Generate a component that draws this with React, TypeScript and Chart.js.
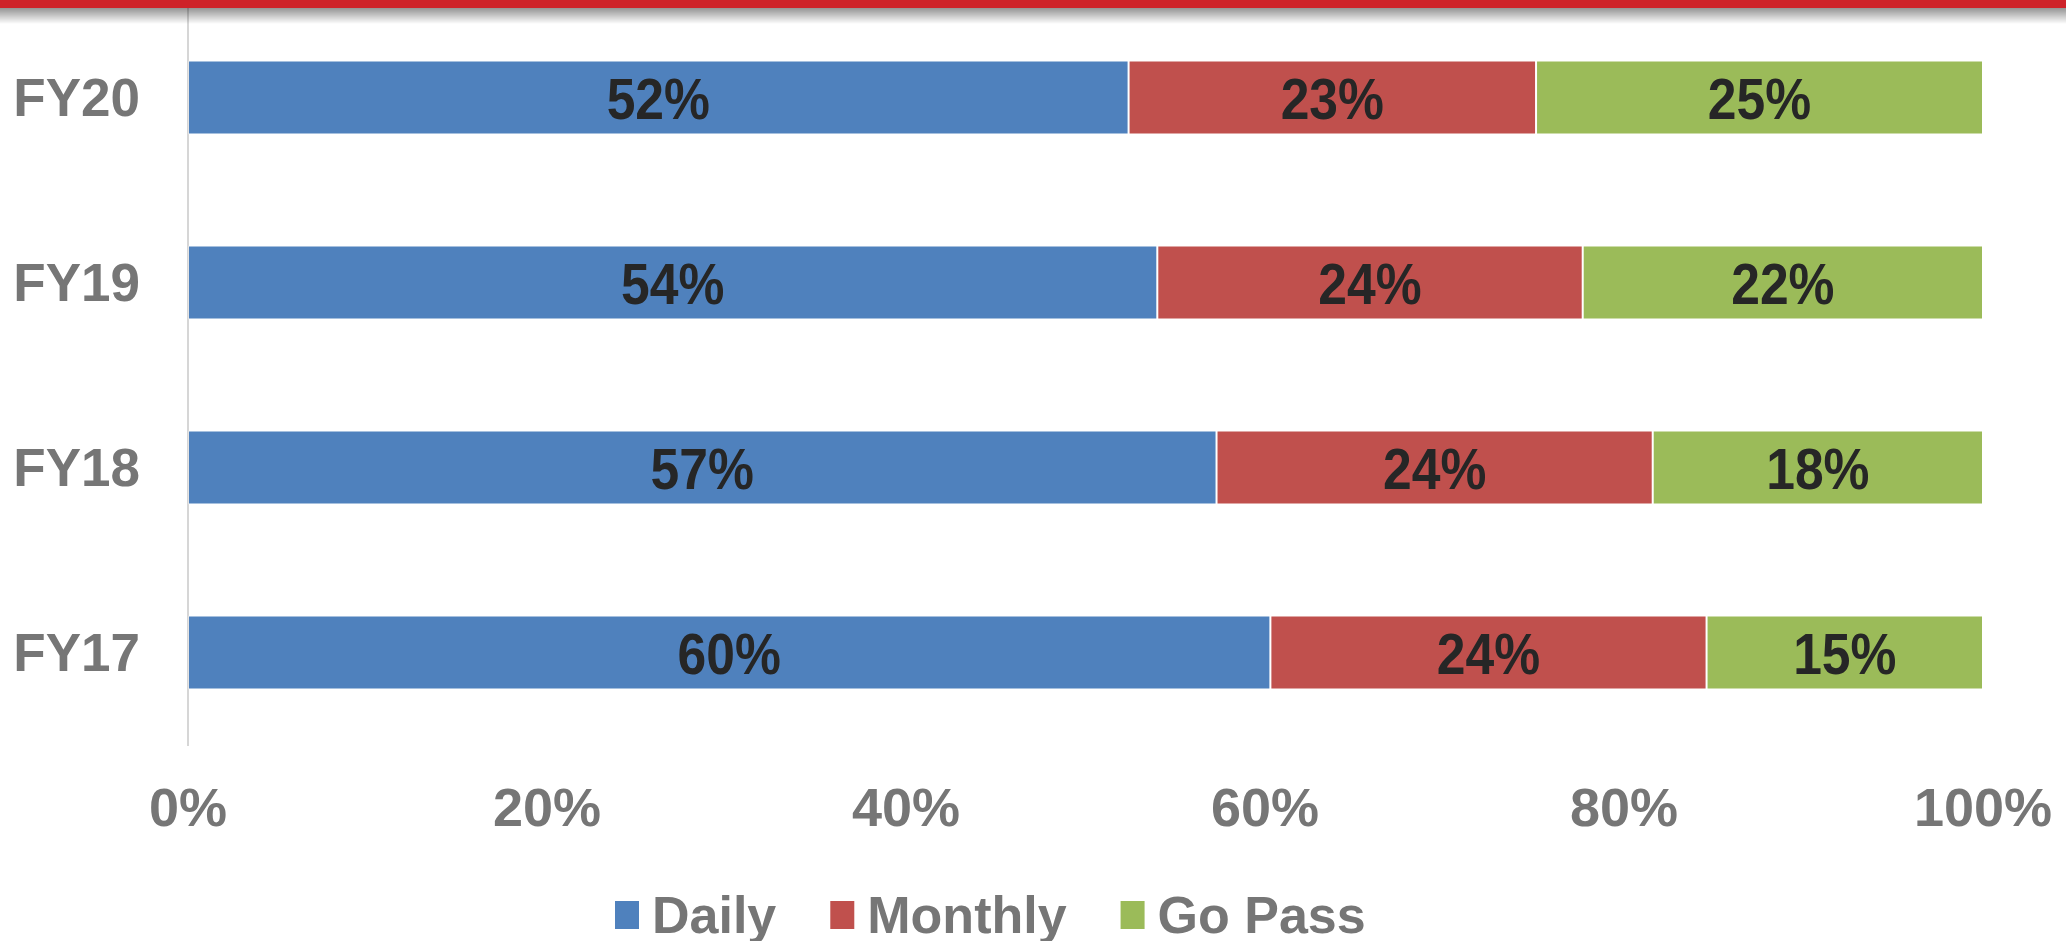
import React, { useEffect, useRef } from 'react';
import { Chart, registerables } from 'chart.js';

Chart.register(...registerables);

const categories = ['FY20', 'FY19', 'FY18', 'FY17'];
const seriesNames = ['Daily', 'Monthly', 'Go Pass'];
const dailyValues = [52.4, 54.0, 57.3, 60.3];
const monthlyValues = [22.7, 23.7, 24.3, 24.3];
const goPassValues = [24.9, 22.3, 18.4, 15.4];
const seriesColors = ['#4F81BD', '#C0504D', '#9BBB59'];
const xTickLabels = ['0%', '20%', '40%', '60%', '80%', '100%'];

const FONT = "'Liberation Sans', Arial, sans-serif";
const W = 2066;
const H = 941;

const topBarPlugin = {
  id: 'topBar',
  afterDraw(chart: any) {
    const ctx = chart.ctx;
    ctx.save();
    const g = ctx.createLinearGradient(0, 8, 0, 24);
    g.addColorStop(0, 'rgba(0,0,0,0.42)');
    g.addColorStop(1, 'rgba(0,0,0,0)');
    ctx.fillStyle = g;
    ctx.fillRect(0, 8, chart.width, 16);
    ctx.fillStyle = '#CE2229';
    ctx.fillRect(0, 0, chart.width, 8);
    ctx.restore();
  },
};

const dataLabelPlugin = {
  id: 'dataLabels',
  afterDatasetsDraw(chart: any) {
    const ctx = chart.ctx;
    ctx.save();
    ctx.fillStyle = '#262626';
    ctx.font = `bold 58px ${FONT}`;
    ctx.textAlign = 'center';
    ctx.textBaseline = 'middle';
    chart.data.datasets.forEach((ds: any, di: number) => {
      const meta = chart.getDatasetMeta(di);
      meta.data.forEach((el: any, i: number) => {
        const v = ds.data[i];
        const cx = (el.x + el.base) / 2;
        const cy = el.y;
        ctx.save();
        ctx.translate(cx, cy + 5);
        ctx.scale(0.89, 1);
        ctx.fillText(Math.round(v) + '%', 0, 0);
        ctx.restore();
      });
    });
    ctx.restore();
  },
};

const legendPlugin = {
  id: 'customLegend',
  afterDraw(chart: any) {
    const ctx = chart.ctx;
    ctx.save();
    ctx.font = `bold 52px ${FONT}`;
    ctx.textBaseline = 'alphabetic';
    ctx.textAlign = 'left';
    let x = 615;
    const boxTop = 901;
    const boxW = 24;
    const boxH = 28;
    const baseline = 933;
    chart.data.datasets.forEach((ds: any) => {
      ctx.fillStyle = ds.backgroundColor;
      ctx.fillRect(x, boxTop, boxW, boxH);
      x += boxW + 13;
      const tw = ctx.measureText(ds.label).width;
      ctx.fillStyle = '#767676';
      ctx.fillText(ds.label, x, baseline);
      x += tw + 54;
    });
    ctx.restore();
  },
};

export default function App() {
  const ref = useRef<HTMLCanvasElement>(null);

  useEffect(() => {
    document.body.style.margin = '0';
    const canvas = ref.current;
    if (!canvas) return;
    const seriesValues = [dailyValues, monthlyValues, goPassValues];
    const chart = new Chart(canvas, {
      type: 'bar',
      data: {
        labels: categories,
        datasets: seriesNames.map((name, i) => ({
          label: name,
          data: seriesValues[i],
          backgroundColor: seriesColors[i],
          borderColor: 'rgba(255,255,255,0.35)',
          borderWidth: 1,
          borderSkipped: false,
          categoryPercentage: 0.8,
          barPercentage: 0.5,
        })),
      },
      options: {
        indexAxis: 'y',
        animation: false,
        responsive: false,
        maintainAspectRatio: false,
        layout: { padding: { left: 0, top: 5, right: 83, bottom: 0 } },
        plugins: {
          legend: { display: false },
          tooltip: { enabled: false },
        },
        scales: {
          x: {
            stacked: true,
            min: 0,
            max: 100,
            grid: { display: false, drawTicks: false },
            border: { display: false },
            ticks: {
              stepSize: 20,
              padding: 34,
              color: '#767676',
              font: { family: FONT, size: 54, weight: 'bold' },
              callback: (v: any) => xTickLabels[Math.round(Number(v) / 20)] ?? '',
              maxRotation: 0,
            },
            afterFit: (scale: any) => {
              scale.height = 196;
              scale.paddingLeft = 0;
              scale.paddingRight = 0;
            },
          },
          y: {
            stacked: true,
            grid: { display: false, drawTicks: false },
            border: { display: true, color: '#D6D6D6', width: 2 },
            ticks: {
              padding: 48,
              labelOffset: 4,
              color: '#767676',
              font: { family: FONT, size: 53, weight: 'bold' },
            },
            afterFit: (scale: any) => {
              scale.width = 188;
              scale.paddingTop = 0;
              scale.paddingBottom = 0;
            },
          },
        },
      },
      plugins: [dataLabelPlugin, legendPlugin, topBarPlugin],
    } as any);
    return () => chart.destroy();
  }, []);

  return (
    <div style={{ width: W, height: H, background: '#fff' }}>
      <canvas ref={ref} width={W} height={H} style={{ display: 'block', width: W, height: H }} />
    </div>
  );
}
